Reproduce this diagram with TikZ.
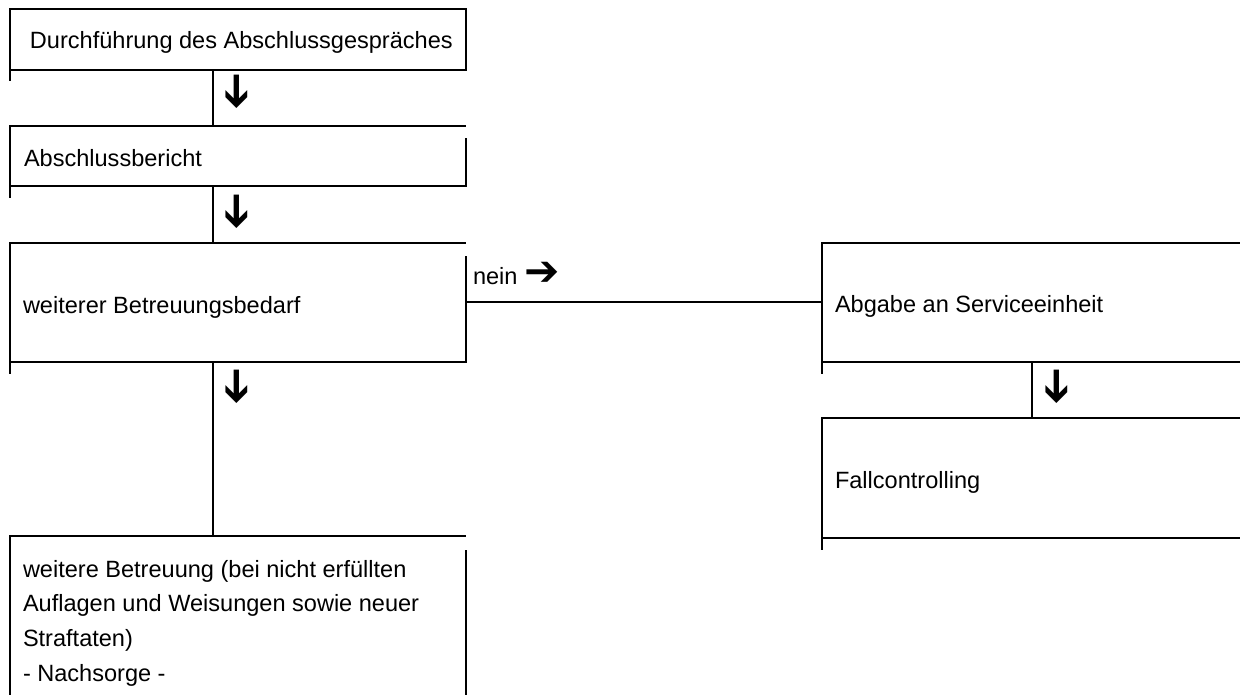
\documentclass[tikz,border=0pt]{standalone}
\usepackage{fontspec}
\setmainfont{Liberation Sans}
\newfontfamily\arrowfont{DejaVu Sans Bold}
\usetikzlibrary{positioning,calc}

\begin{document}
\begin{tikzpicture}[x=0.02cm, y=-0.02cm, line width=0.04cm,
    cell/.style={rectangle, inner sep=0pt, anchor=north west, minimum width=9.08cm},
    rcell/.style={rectangle, inner sep=0pt, anchor=north west, minimum width=8.8cm},
    txt/.style={anchor=base west, inner sep=0pt, font=\fontsize{13.4}{19.7}\selectfont, align=left},
    arr/.style={inner sep=0pt, font=\arrowfont\fontsize{26}{26}\selectfont}
]
    \useasboundingbox (0,0) rectangle (1240,694);
    \coordinate (colL) at (213,0);
    \coordinate (colR) at (1032,0);

    % left column
    \node[cell, minimum height=1.18cm] (durch) at (10,9) {};
    \node[cell, minimum height=1.16cm] (bericht) at (10,126) {};
    \node[cell, minimum height=2.34cm] (bedarf) at (10,243) {};
    \node[cell, minimum height=4cm] (betreuung) at (10,536) {};

    % right column
    \node[rcell, minimum height=2.34cm] (abgabe) at (822,243) {};
    \node[rcell, minimum height=2.36cm] (fall) at (822,418) {};

    \draw (durch.north west) rectangle (durch.south east);
    \draw (durch.south west) -- ++(0,11);

    \draw ($(bericht.north east)+(0,12)$) -- (bericht.south east) -- (bericht.south west) -- (bericht.north west) -- (bericht.north east);
    \draw (bericht.south west) -- ++(0,12);

    \draw ($(bedarf.north east)+(0,13)$) -- (bedarf.south east) -- (bedarf.south west) -- (bedarf.north west) -- (bedarf.north east);
    \draw (bedarf.south west) -- ++(0,12);

    \draw ($(betreuung.north east)+(0,14)$) -- (betreuung.south east) -- (betreuung.south west) -- (betreuung.north west) -- (betreuung.north east);

    \draw (abgabe.north east) -- (abgabe.north west) -- (abgabe.south west) -- (abgabe.south east);
    \draw (abgabe.south west) -- ++(0,12);

    \draw (fall.north east) -- (fall.north west) -- (fall.south west) -- (fall.south east);
    \draw (fall.south west) -- ++(0,12);

    % connectors
    \draw (durch.south -| colL) -- (bericht.north -| colL);
    \draw (bericht.south -| colL) -- (bedarf.north -| colL);
    \draw (bedarf.south -| colL) -- (betreuung.north -| colL);
    \draw (abgabe.south -| colR) -- (fall.north -| colR);
    \draw (bedarf.east) -- (abgabe.west);

    % arrow glyphs
    \node[arr, rotate=-90] (pfeil1) at (235,92) {➔};
    \node[arr, rotate=-90] (pfeil2) at (235,212) {➔};
    \node[arr, rotate=-90] (pfeil3) at (235,387) {➔};
    \node[arr, rotate=-90] (pfeil4) at (1055,387) {➔};

    % texts
    \node[txt] (t1) at (29,48) {Durchführung des Abschlussgespräches};
    \node[txt] (t2) at (23,166) {Abschlussbericht};
    \node[txt] (t3) at (22,313) {weiterer Betreuungsbedarf};
    \node[txt] (t4) at (472,284) {nein \raisebox{-0.12ex}{\arrowfont\fontsize{24}{24}\selectfont ➔}};
    \node[txt] (t5) at (834,312) {Abgabe an Serviceeinheit};
    \node[txt] (t6) at (834,488) {Fallcontrolling};
    \node[txt] (t7) at (22,681) {weitere Betreuung (bei nicht erfüllten\\Auflagen und Weisungen sowie neuer\\Straftaten)\\- Nachsorge -};
\end{tikzpicture}
\end{document}
